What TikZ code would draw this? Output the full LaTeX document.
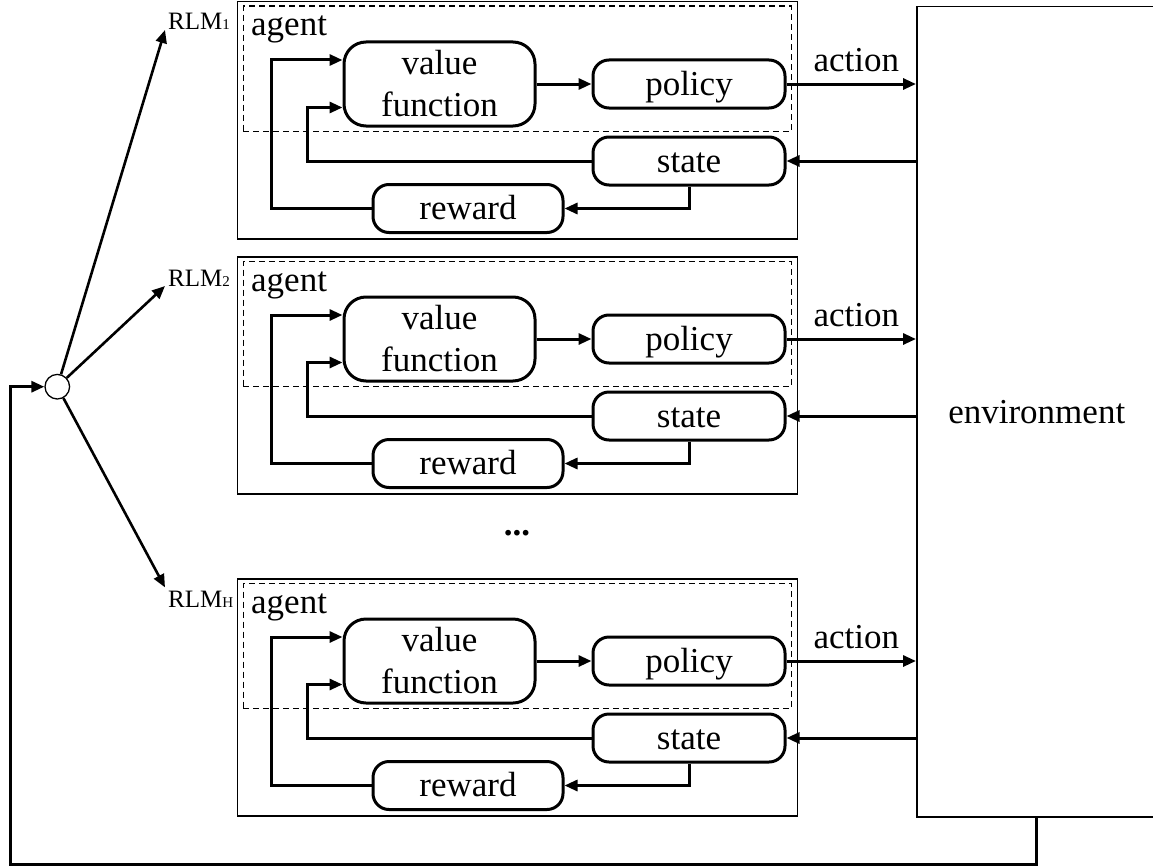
\documentclass[tikz,border=0pt]{standalone}
\usepackage{fontspec}
\setmainfont{Liberation Serif}
\usetikzlibrary{arrows.meta,calc}
\newcommand\mainsize{\fontsize{35}{42}\selectfont}
\newcommand\labsize{\fontsize{25}{30}\selectfont}
\newcommand\subsize{\fontsize{15}{18}\selectfont}
\begin{document}
\begin{tikzpicture}[x=1pt,y=-1pt,
  arr/.style={-{Triangle[length=13pt,width=11pt]}, line width=3pt},
  hubarr/.style={-{Triangle[length=13pt,width=11pt]}, line width=2.6pt},
  thinbox/.style={draw, line width=1.5pt, inner sep=0pt},
  dashbox/.style={draw, line width=1.4pt, dash pattern=on 6pt off 4pt, inner sep=0pt},
  rbox/.style={draw, line width=3pt, rounded corners=16pt, minimum width=192pt,
    minimum height=48pt, inner sep=0pt, text height=25pt, text depth=3pt, font=\mainsize},
  vfbox/.style={draw, line width=3pt, rounded corners=22pt, minimum width=191pt,
    minimum height=84pt, inner sep=0pt, align=center, font=\mainsize},
  rlm/.style={anchor=base west, inner sep=3pt, font=\labsize}]
\useasboundingbox (0,0) rectangle (1153,867);

% environment block on the right
\node[thinbox, anchor=north west, minimum width=240pt, minimum height=810.3pt,
  font=\mainsize] (env) at (916,5.7) {environment};

% one reinforcement-learning module per row
\foreach \T/\n in {1/a,256/b,578/c}{
  \node[thinbox, anchor=north west, minimum width=560pt, minimum height=237pt] (box\n) at (236.7,\T) {};
  \node[dashbox, anchor=north west, minimum width=548pt, minimum height=125.5pt] (ag\n) at (242.7,\T+4.5) {};
  \node[anchor=base west, inner sep=0pt, font=\mainsize] (agl\n) at (251,\T+35) {agent};
  \node[vfbox] (vf\n) at (439.5,\T+83) {value\\function};
  \node[rbox] (po\n) at (689,\T+83) {policy};
  \node[rbox] (st\n) at (689,\T+160) {state};
  \node[rbox, minimum width=190pt] (rw\n) at (468,\T+207.5) {reward};
  \coordinate (up\n) at (271.7,\T+59);
  \coordinate (lo\n) at (307.7,\T+106.5);
  \draw[arr] (vf\n) -- (po\n);
  \draw[arr] (rw\n.west) -| (up\n) -- (up\n -| vf\n.west);
  \draw[arr] (st\n.west) -| (lo\n) -- (lo\n -| vf\n.west);
  \draw[arr] (st\n.south) |- (rw\n.east);
  \draw[arr] (po\n.east) -- (po\n.east -| env.west)
    node[midway, anchor=base, inner sep=0pt, yshift=13pt, xshift=5pt, font=\mainsize] {action};
  \draw[arr] (env.west |- st\n.east) -- (st\n.east);
}

% module labels
\node[rlm] (rlma) at (165,30) {RLM{\subsize 1}};
\node[rlm] (rlmb) at (165,286) {RLM{\subsize 2}};
\node[rlm] (rlmc) at (165,607) {RLM{\subsize H}};

% distribution hub
\node[circle, draw, line width=1.3pt, minimum size=24.6pt, inner sep=0pt] (hub) at (57.3,386.7) {};
\draw[hubarr] (hub) -- (rlma.base west);
\draw[hubarr] (hub) -- (rlmb.base west);
\draw[hubarr] (hub) -- (rlmc.north west);

% feedback from the environment to the hub
\coordinate (fb) at (10,864);
\draw[arr] (env.south) |- (fb) |- (hub.west);

% ellipsis between modules
\node[font=\mainsize\bfseries, inner sep=0pt] (dots) at (517,533) {...};
\end{tikzpicture}
\end{document}
